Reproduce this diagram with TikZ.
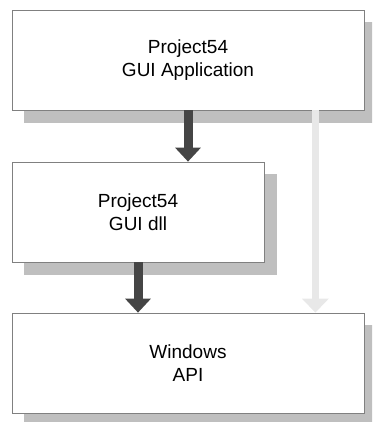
\documentclass[tikz,border=0pt]{standalone}
\usepackage{fontspec}
\setmainfont{Liberation Sans}
\usetikzlibrary{arrows.meta}
\definecolor{shadowgray}{gray}{0.75}
\definecolor{darkarrow}{gray}{0.27}
\definecolor{lightarrow}{gray}{0.91}
\definecolor{boxedge}{gray}{0.5}
\tikzset{
  layerbox/.style={draw=boxedge, line width=0.7pt, fill=white, inner sep=0pt, align=center,
    font=\fontsize{19}{23}\selectfont},
  boxshadow/.style={fill=shadowgray, draw=none},
  darkconn/.style={draw=darkarrow, line width=9pt, -{Triangle[width=25pt,length=14pt,fill=darkarrow]}},
  lightconn/.style={draw=lightarrow, line width=7pt, -{Triangle[width=26pt,length=14pt,fill=lightarrow]}},
}
\begin{document}
\begin{tikzpicture}[x=1pt,y=-1pt]
\useasboundingbox (0,0) rectangle (372,422);
\clip (0,0) rectangle (372,422);
% shadows
\fill[boxshadow] (24,22) rectangle (376,123);
\fill[boxshadow] (24,174) rectangle (277,275);
\fill[boxshadow] (24,325) rectangle (376,426);
% boxes
\node[layerbox, minimum width=352pt, minimum height=100pt] (app) at (188,60) {Project54\\GUI Application};
\node[layerbox, minimum width=252pt, minimum height=100pt] (dll) at (138,212) {Project54\\GUI dll};
\node[layerbox, minimum width=352pt, minimum height=100pt] (api) at (188,363) {Windows\\API};
% connectors
\coordinate (lightstart) at ([xshift=-49pt]app.south east);
\draw[lightconn] (lightstart) -- (lightstart |- api.north);
\draw[darkconn] (app.south) -- (app.south |- dll.north);
\draw[darkconn] (dll.south) -- (dll.south |- api.north);
\end{tikzpicture}
\end{document}
